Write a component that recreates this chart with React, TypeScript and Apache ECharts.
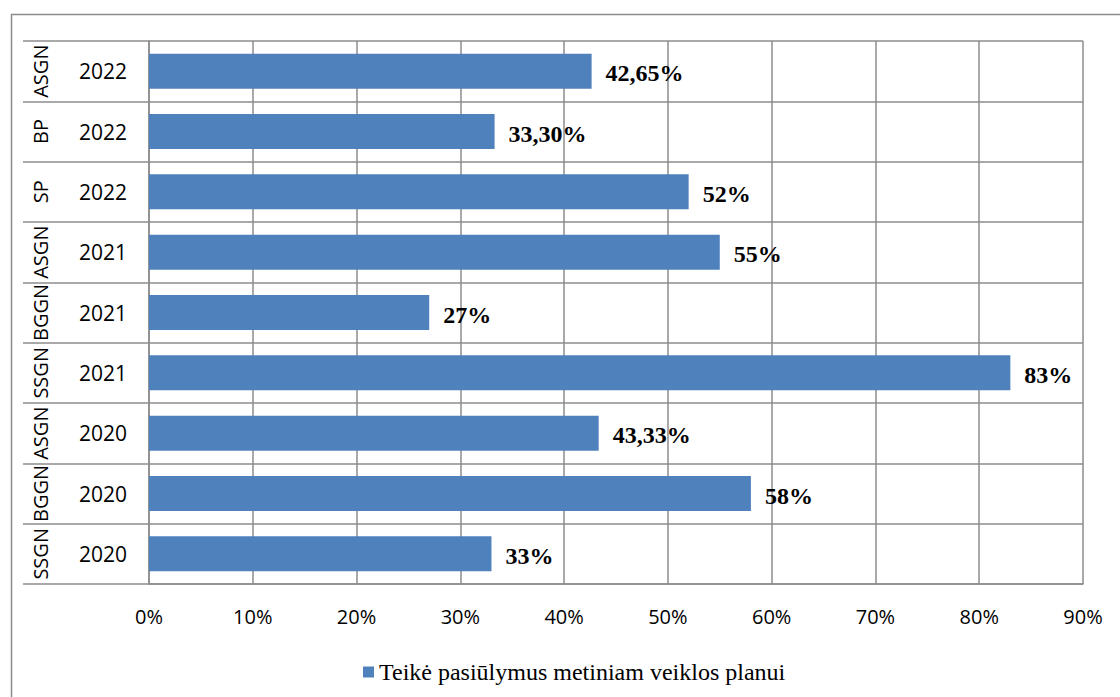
import React, { useEffect, useRef } from "react";
import * as echarts from "echarts";

// bottom-to-top order
const groups = ["SSGN", "BGGN", "ASGN", "SSGN", "BGGN", "ASGN", "SP", "BP", "ASGN"];
const years = ["2020", "2020", "2020", "2021", "2021", "2021", "2022", "2022", "2022"];
const values = [33, 58, 43.33, 83, 27, 55, 52, 33.3, 42.65];
const valueLabels = ["33%", "58%", "43,33%", "83%", "27%", "55%", "52%", "33,30%", "42,65%"];
const seriesName = "Teikė pasiūlymus metiniam veiklos planui";

const GRID = "#8c8c8c";
const SANS = "'Open Sans', 'Noto Sans', sans-serif";
const SERIF = "'Liberation Serif', 'Times New Roman', serif";

export default function App() {
  const ref = useRef<HTMLDivElement>(null);
  useEffect(() => {
    document.body.style.margin = "0";
    const chart = echarts.init(ref.current!, null, { renderer: "svg" });
    const cats = years.map((y, i) => i + "");
    chart.setOption({
      animation: false,
      backgroundColor: "#fff",
      graphic: [
        {
          type: "rect",
          left: 9,
          top: 12,
          shape: { width: 1200, height: 800 },
          style: { fill: "none", stroke: GRID, lineWidth: 1.5 },
          silent: true,
        },
      ],
      legend: {
        left: 358,
        top: 655,
        itemWidth: 11,
        itemHeight: 11,
        itemGap: 8,
        icon: "rect",
        textStyle: { fontFamily: SERIF, fontSize: 24, color: "#000" },
        data: [seriesName],
      },
      grid: {
        left: 149,
        right: 37,
        top: 41,
        bottom: 113,
        containLabel: false,
        outerBoundsMode: "none",
      },
      xAxis: {
        type: "value",
        min: 0,
        max: 90,
        interval: 10,
        axisLine: { show: true, lineStyle: { color: GRID, width: 1.5 } },
        axisTick: { show: false },
        splitLine: { show: true, lineStyle: { color: GRID, width: 1.5 } },
        axisLabel: {
          formatter: "{value}%",
          fontFamily: SANS,
          fontSize: 20,
          color: "#000",
          margin: 22,
        },
      },
      yAxis: [
        {
          type: "category",
          data: cats,
          position: "left",
          axisLine: { show: true, lineStyle: { color: GRID, width: 1.5 } },
          axisTick: { show: true, length: 126, interval: 0, lineStyle: { color: GRID, width: 1.5 } },
          splitLine: { show: true, interval: 0, lineStyle: { color: GRID, width: 1.5 } },
          axisLabel: {
            interval: 0,
            formatter: (v: string) => years[+v],
            fontFamily: SANS,
            fontSize: 21,
            color: "#000",
            margin: 22,
          },
        },
        {
          type: "category",
          data: cats,
          position: "left",
          axisLine: { show: false },
          axisTick: { show: false },
          splitLine: { show: false },
          axisLabel: {
            interval: 0,
            hideOverlap: false,
            formatter: (v: string) => groups[+v],
            rotate: 90,
            align: "center",
            verticalAlign: "middle",
            fontFamily: SANS,
            fontSize: 20,
            color: "#000",
            margin: 109,
          },
        },
      ],
      series: [
        {
          name: seriesName,
          type: "bar",
          yAxisIndex: 0,
          data: values,
          barCategoryGap: "42%",
          itemStyle: { color: "#4F81BD" },
          label: {
            show: true,
            position: "right",
            distance: 14,
            offset: [0, 2],
            formatter: (p: any) => valueLabels[p.dataIndex],
            fontFamily: SERIF,
            fontWeight: "bold",
            fontSize: 24,
            color: "#000",
          },
        },
      ],
    });
    return () => chart.dispose();
  }, []);
  return <div ref={ref} style={{ position: "fixed", left: 0, top: 0, width: 1120, height: 697 }} />;
}
